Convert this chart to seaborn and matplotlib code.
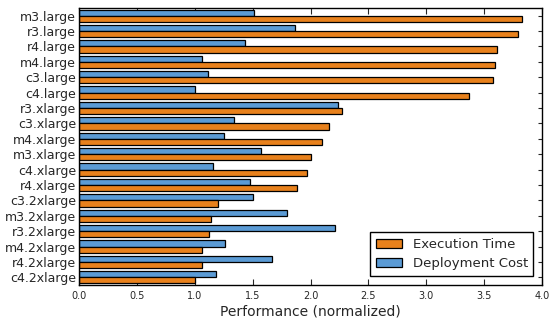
import numpy as np
import pandas as pd
import matplotlib
matplotlib.use("Agg")
import matplotlib.pyplot as plt
import seaborn as sns
from matplotlib.patches import Patch

instances = ["m3.large", "r3.large", "r4.large", "m4.large", "c3.large", "c4.large",
             "r3.xlarge", "c3.xlarge", "m4.xlarge", "m3.xlarge", "c4.xlarge", "r4.xlarge",
             "c3.2xlarge", "m3.2xlarge", "r3.2xlarge", "m4.2xlarge", "r4.2xlarge", "c4.2xlarge"]
execution_time = [3.83, 3.79, 3.61, 3.59, 3.58, 3.37,
                  2.27, 2.16, 2.10, 2.00, 1.97, 1.88,
                  1.20, 1.14, 1.12, 1.06, 1.06, 1.00]
deployment_cost = [1.51, 1.87, 1.43, 1.065, 1.115, 1.00,
                   2.24, 1.34, 1.25, 1.575, 1.16, 1.48,
                   1.50, 1.80, 2.21, 1.26, 1.67, 1.18]

series_names = ["Execution Time", "Deployment Cost"]
colors = {"Execution Time": "#E8811C", "Deployment Cost": "#5B9BD5"}

df = pd.concat([
    pd.DataFrame({"instance": instances, "value": execution_time, "metric": "Execution Time"}),
    pd.DataFrame({"instance": instances, "value": deployment_cost, "metric": "Deployment Cost"}),
])

sns.set_style("white")
plt.rcParams["font.family"] = ["DejaVu Sans"]

fig = plt.figure(figsize=(5.53, 3.18), dpi=100)
ax = fig.add_axes([79/553, 1-285/318, (542-79)/553, (285-8)/318])

sns.barplot(data=df, y="instance", x="value", hue="metric",
            hue_order=["Deployment Cost", "Execution Time"], order=instances,
            palette=colors, orient="h", width=0.8, edgecolor="black", linewidth=0.9,
            saturation=1, ax=ax, legend=False)

ax.set_xlim(0, 4.0)
ax.set_ylim(len(instances) - 0.5, -0.5)
ax.set_xticks(np.arange(0, 4.01, 0.5))
ax.set_xticklabels([f"{v:.1f}" for v in np.arange(0, 4.01, 0.5)], fontsize=7)
ax.tick_params(axis="y", labelsize=9, direction="in", length=3, right=True, left=True, pad=2)
ax.tick_params(axis="x", direction="in", length=4, top=True, bottom=True, pad=4)
ax.set_ylabel("")
ax.set_xlabel("Performance (normalized)", fontsize=10, labelpad=3)
for s in ax.spines.values():
    s.set_visible(True)
    s.set_color("black")
    s.set_linewidth(1.0)

handles = [Patch(facecolor=colors[n], edgecolor="black", linewidth=0.9, label=n) for n in series_names]
leg = ax.legend(handles=handles, loc="lower right", fontsize=9.5, frameon=True, fancybox=False,
                edgecolor="black", framealpha=1, borderpad=0.4, handlelength=2.0,
                bbox_to_anchor=(0.995, 0.01))
leg.get_frame().set_linewidth(1.0)

fig.savefig("out.png", dpi=100)
